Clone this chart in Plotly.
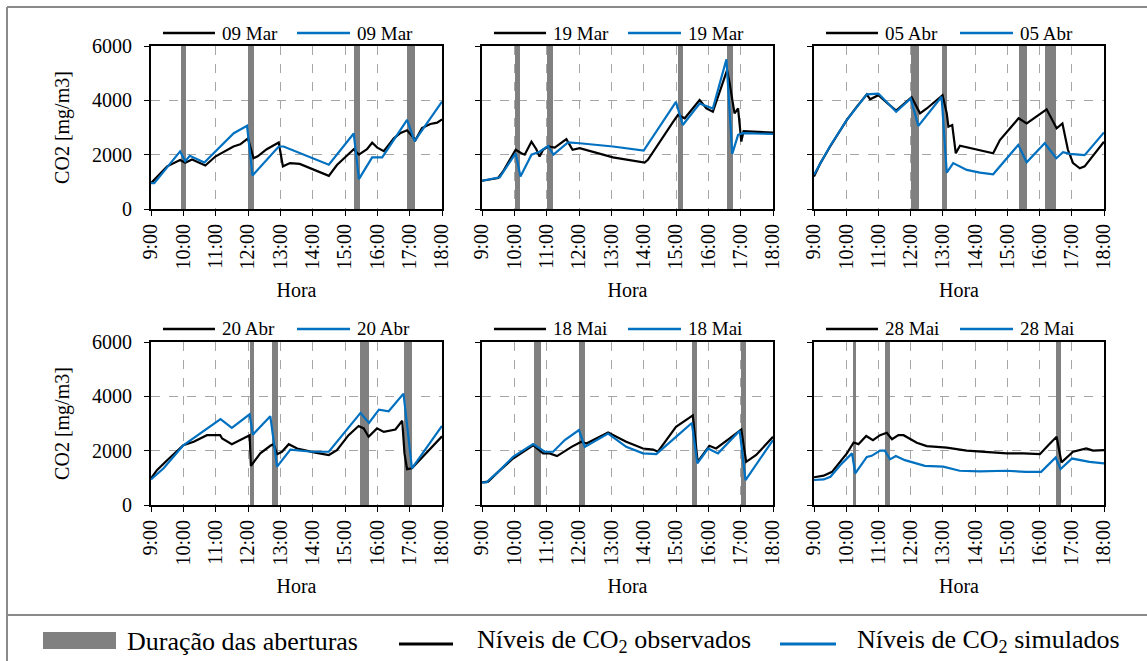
import plotly.graph_objects as go

# ---------------- DATA ----------------
days = ["09 Mar", "19 Mar", "05 Abr", "20 Abr", "18 Mai", "28 Mai"]
hour_ticks = [9, 10, 11, 12, 13, 14, 15, 16, 17, 18]
hour_labels = ["9:00", "10:00", "11:00", "12:00", "13:00", "14:00", "15:00", "16:00", "17:00", "18:00"]
co2_ticks = [0, 2000, 4000, 6000]

# 09 Mar
mar09_open_start = [9.92, 12.0, 15.28, 16.93]
mar09_open_end = [10.08, 12.17, 15.45, 17.18]
mar09_obs_h = [9.0, 9.5, 9.9, 10.06, 10.27, 10.68, 11.0, 11.55, 11.76, 12.0, 12.17, 12.3, 12.58, 12.95, 13.08,
               13.3, 13.6, 14.03, 14.5, 14.75, 15.27, 15.43, 15.68, 15.84, 16.0, 16.2, 16.51, 16.72, 16.92,
               17.18, 17.38, 17.64, 17.85, 18.0]
mar09_obs_v = [950, 1570, 1800, 1700, 1820, 1600, 1940, 2300, 2380, 2600, 1870, 1940, 2200, 2450, 1570,
               1690, 1660, 1450, 1220, 1620, 2200, 2000, 2200, 2440, 2260, 2130, 2600, 2800, 2900,
               2540, 2980, 3130, 3180, 3300]
mar09_sim_h = [9.0, 9.1, 9.9, 10.06, 10.2, 10.65, 11.56, 11.97, 12.14, 12.95, 13.1, 14.5, 15.27, 15.43,
               15.84, 16.15, 16.92, 17.15, 18.0]
mar09_sim_v = [950, 950, 2120, 1760, 1960, 1710, 2790, 3060, 1230, 2300, 2300, 1630, 2780, 1100,
               1900, 1900, 3280, 2500, 3950]

# 19 Mar
mar19_open_start = [10.01, 11.01, 15.06, 16.58]
mar19_open_end = [10.19, 11.2, 15.23, 16.76]
mar19_obs_h = [9.0, 9.5, 9.65, 10.04, 10.22, 10.32, 10.53, 10.68, 10.78, 10.89, 11.04, 11.25, 11.61, 11.8,
               12.02, 13.05, 14.03, 14.13, 14.91, 15.06, 15.27, 15.73, 15.94, 16.14, 16.58, 16.66, 16.81,
               16.92, 17.02, 17.09, 17.38, 18.0]
mar19_obs_v = [1040, 1140, 1380, 2180, 2050, 2000, 2480, 2200, 1930, 2180, 2300, 2260, 2570, 2180,
               2240, 1900, 1710, 1810, 3210, 3460, 3340, 4010, 3700, 3580, 5110, 4620, 3520,
               3700, 2480, 2870, 2850, 2810]
mar19_sim_h = [9.0, 9.55, 10.04, 10.19, 10.53, 10.78, 11.04, 11.21, 11.66, 12.02, 13.05, 14.0, 15.0, 15.21,
               15.73, 16.14, 16.56, 16.74, 16.92, 17.07, 18.0]
mar19_sim_v = [1040, 1170, 2050, 1200, 2000, 2110, 2320, 2000, 2450, 2420, 2300, 2150, 3940, 3090,
               3880, 3700, 5510, 2030, 2730, 2790, 2760]

# 05 Abr
abr05_open_start = [12.0, 12.97, 15.35, 16.17]
abr05_open_end = [12.26, 13.14, 15.6, 16.5]
abr05_obs_h = [9.0, 9.2, 9.5, 10.02, 10.33, 10.64, 10.74, 11.0, 11.26, 11.55, 12.03, 12.29, 12.5, 12.99,
               13.12, 13.17, 13.29, 13.4, 13.53, 14.56, 14.77, 15.35, 15.6, 16.22, 16.53, 16.71, 16.88,
               17.04, 17.25, 17.4, 18.0]
abr05_obs_v = [1200, 1690, 2300, 3280, 3770, 4220, 4040, 4190, 3910, 3620, 4110, 3520, 3700, 4190,
               3520, 3030, 3090, 2050, 2330, 2050, 2540, 3340, 3150, 3670, 2970, 3150, 2180,
               1690, 1500, 1570, 2480]
abr05_sim_h = [9.0, 9.5, 10.02, 10.64, 11.0, 11.26, 11.55, 12.0, 12.24, 12.96, 13.12, 13.32, 13.74, 14.15,
               14.56, 15.34, 15.6, 16.16, 16.52, 16.73, 16.94, 17.4, 18.0]
abr05_sim_v = [1260, 2320, 3280, 4220, 4250, 3950, 3580, 4070, 3060, 4130, 1340, 1690, 1440, 1340,
               1280, 2360, 1720, 2420, 1870, 2090, 2030, 1980, 2820]

# 20 Abr
abr20_open_start = [12.07, 12.74, 15.47, 16.83]
abr20_open_end = [12.18, 12.93, 15.75, 17.08]
abr20_obs_h = [9.0, 9.19, 9.5, 10.0, 10.32, 10.73, 11.14, 11.2, 11.5, 11.97, 12.05, 12.09, 12.38, 12.69,
               12.79, 12.9, 13.05, 13.26, 13.52, 14.08, 14.5, 14.75, 15.11, 15.42, 15.58, 15.73, 15.99,
               16.2, 16.56, 16.77, 16.84, 16.92, 17.07, 18.0]
abr20_obs_v = [980, 1290, 1650, 2200, 2330, 2570, 2570, 2450, 2240, 2510, 2570, 1440, 1900, 2180,
               2240, 1870, 1960, 2240, 2080, 1930, 1840, 2020, 2570, 2910, 2820, 2510, 2820,
               2690, 2780, 3100, 1900, 1320, 1350, 2530]
abr20_sim_h = [9.0, 9.39, 10.0, 10.43, 10.95, 11.15, 11.5, 12.05, 12.15, 12.69, 12.9, 13.31, 13.98, 14.5,
               15.48, 15.74, 16.05, 16.35, 16.81, 17.07, 18.0]
abr20_sim_v = [940, 1350, 2200, 2570, 3000, 3160, 2840, 3340, 2590, 3270, 1410, 2040, 1960, 1960,
               3390, 3020, 3510, 3450, 4100, 1350, 2910]

# 18 Mai
mai18_open_start = [10.6, 12.0, 15.5, 17.0]
mai18_open_end = [10.84, 12.18, 15.66, 17.15]
mai18_obs_h = [9.0, 9.19, 9.5, 9.96, 10.58, 10.89, 11.09, 11.32, 11.77, 12.07, 12.23, 12.9, 13.46, 13.98,
               14.29, 14.44, 14.7, 15.0, 15.52, 15.67, 16.03, 16.24, 16.66, 17.02, 17.17, 17.48, 18.0]
mai18_obs_v = [830, 860, 1220, 1710, 2200, 1900, 1900, 1800, 2140, 2330, 2260, 2670, 2330, 2080,
               2040, 1960, 2390, 2880, 3300, 1590, 2180, 2080, 2450, 2780, 1590, 1840, 2510]
mai18_sim_h = [9.0, 9.13, 9.5, 9.96, 10.58, 10.94, 11.2, 11.56, 12.0, 12.18, 12.9, 13.46, 13.98, 14.39,
               15.0, 15.49, 15.66, 15.99, 16.3, 16.97, 17.15, 18.0]
mai18_sim_v = [830, 830, 1220, 1770, 2240, 1960, 1960, 2390, 2760, 2140, 2630, 2140, 1900, 1870,
               2510, 3020, 1530, 2080, 1900, 2730, 920, 2390]

# 28 Mai
mai28_open_start = [10.2, 11.19, 16.51]
mai28_open_end = [10.29, 11.36, 16.68]
mai28_obs_h = [9.0, 9.3, 9.56, 9.82, 10.02, 10.23, 10.38, 10.62, 10.83, 11.05, 11.26, 11.42, 11.62, 11.78,
               12.19, 12.5, 13.12, 13.74, 14.36, 14.98, 15.5, 16.01, 16.27, 16.53, 16.68, 17.04, 17.45,
               17.66, 18.0]
mai28_obs_v = [1020, 1080, 1220, 1590, 1900, 2300, 2240, 2540, 2390, 2570, 2660, 2420, 2570, 2570,
               2290, 2170, 2110, 2000, 1960, 1900, 1900, 1870, 2200, 2510, 1570, 1960, 2080,
               2000, 2020]
mai28_sim_h = [9.0, 9.3, 9.51, 9.82, 10.18, 10.28, 10.64, 10.79, 11.05, 11.2, 11.36, 11.54, 11.82, 12.44,
               13.01, 13.52, 14.14, 14.96, 15.58, 16.05, 16.5, 16.65, 17.01, 17.55, 18.0]
mai28_sim_v = [920, 940, 1040, 1470, 1900, 1160, 1770, 1810, 2000, 2000, 1680, 1800, 1650, 1440,
               1410, 1260, 1240, 1260, 1220, 1220, 1750, 1320, 1710, 1590, 1530]

legend_labels = ["Duração das aberturas", "Níveis de CO<sub>2</sub> observados", "Níveis de CO<sub>2</sub> simulados"]

# ---------------- STYLE ----------------
FONT = "Liberation Serif"
BLACK = "#000000"
BLUE = "#0070C0"
GREY = "#808080"
FRAME = "#8a8a8a"
W, H = 1147, 661

panels = [
    (mar09_open_start, mar09_open_end, mar09_obs_h, mar09_obs_v, mar09_sim_h, mar09_sim_v),
    (mar19_open_start, mar19_open_end, mar19_obs_h, mar19_obs_v, mar19_sim_h, mar19_sim_v),
    (abr05_open_start, abr05_open_end, abr05_obs_h, abr05_obs_v, abr05_sim_h, abr05_sim_v),
    (abr20_open_start, abr20_open_end, abr20_obs_h, abr20_obs_v, abr20_sim_h, abr20_sim_v),
    (mai18_open_start, mai18_open_end, mai18_obs_h, mai18_obs_v, mai18_sim_h, mai18_sim_v),
    (mai28_open_start, mai28_open_end, mai28_obs_h, mai28_obs_v, mai28_sim_h, mai28_sim_v),
]

# plot-area pixel boxes (left, right) and (top, bottom)
col_px = [(151, 442), (482, 773), (814, 1104)]
row_px = [(46, 209), (342, 505)]

def px_x(p):
    return p / W

def px_y(p):
    return 1 - p / H

fig = go.Figure()
layout = dict(
    width=W, height=H, autosize=False,
    margin=dict(l=0, r=0, t=0, b=0, pad=0, autoexpand=False),
    paper_bgcolor="white", plot_bgcolor="white",
    showlegend=False,
    font=dict(family=FONT, color="black", size=20),
    bargap=0,
)
shapes = []
annotations = []

for i, (day, (os_, oe_, oh, ov, sh, sv)) in enumerate(zip(days, panels)):
    r, c = divmod(i, 3)
    n = i + 1
    xa = "x" if n == 1 else f"x{n}"
    ya = "y" if n == 1 else f"y{n}"
    centers = [(a + b) / 2 for a, b in zip(os_, oe_)]
    widths = [b - a for a, b in zip(os_, oe_)]
    fig.add_trace(go.Bar(x=centers, y=[co2_ticks[-1]] * len(centers), width=widths, base=0,
                         marker=dict(color=GREY, line=dict(width=0)),
                         name="Duração das aberturas", xaxis=xa, yaxis=ya))
    fig.add_trace(go.Scatter(x=oh, y=ov, mode="lines", line=dict(color=BLACK, width=2.2),
                             name=day, xaxis=xa, yaxis=ya))
    fig.add_trace(go.Scatter(x=sh, y=sv, mode="lines", line=dict(color=BLUE, width=2.2),
                             name=day, xaxis=xa, yaxis=ya))

    xkey = "xaxis" if n == 1 else f"xaxis{n}"
    ykey = "yaxis" if n == 1 else f"yaxis{n}"
    l, rr = col_px[c]
    t, b = row_px[r]
    layout[xkey] = dict(
        domain=[px_x(l), px_x(rr)], anchor=ya, range=[9, 18], automargin=False,
        tickmode="array", tickvals=hour_ticks, ticktext=hour_labels, tickangle=-90,
        ticks="outside", ticklen=5, tickwidth=1.2, tickcolor="black",
        showline=True, linecolor="black", linewidth=1.8, mirror=True,
        showgrid=True, gridcolor="#a6a6a6", gridwidth=1, griddash="dash", zeroline=False,
        tickfont=dict(family=FONT, size=20, color="black"),
        title=dict(text="Hora", font=dict(family=FONT, size=20, color="black"), standoff=15),
    )
    layout[ykey] = dict(
        domain=[px_y(b), px_y(t)], anchor=xa, range=[0, 6000], automargin=False,
        tickmode="array", tickvals=co2_ticks,
        ticks="outside", ticklen=5, tickwidth=1.2, tickcolor="black", ticklabelstandoff=8,
        showline=True, linecolor="black", linewidth=1.8, mirror=True,
        showgrid=True, gridcolor="#a6a6a6", gridwidth=1, griddash="dash", zeroline=False,
        showticklabels=(c == 0),
        tickfont=dict(family=FONT, size=20, color="black"),
    )
    if c == 0:
        layout[ykey]["title"] = dict(text="CO2 [mg/m3]", font=dict(family=FONT, size=20, color="black"),
                                     standoff=17)

    # per-panel legend (drawn relative to the panel's domain)
    pw = rr - l
    ph = b - t
    ly = 1 + 13 / ph
    for (x0, x1, tx, col) in [(12, 64, 69, BLACK), (146, 199, 204, BLUE)]:
        shapes.append(dict(type="line", xref=f"{xa} domain", yref=f"{ya} domain",
                           x0=x0 / pw, x1=x1 / pw, y0=ly, y1=ly, line=dict(color=col, width=2.5)))
        annotations.append(dict(text=day, xref=f"{xa} domain", yref=f"{ya} domain",
                                x=tx / pw, y=ly, xanchor="left", yanchor="middle", showarrow=False,
                                font=dict(family=FONT, size=19, color="black")))

# outer frame
shapes += [
    dict(type="line", xref="paper", yref="paper", x0=px_x(7), x1=1, y0=px_y(7), y1=px_y(7),
         line=dict(color=FRAME, width=2)),
    dict(type="line", xref="paper", yref="paper", x0=px_x(7), x1=px_x(7), y0=px_y(7), y1=0,
         line=dict(color=FRAME, width=2)),
    dict(type="line", xref="paper", yref="paper", x0=px_x(7), x1=1, y0=px_y(615), y1=px_y(615),
         line=dict(color=FRAME, width=2)),
]

# bottom legend
shapes += [
    dict(type="rect", xref="paper", yref="paper", x0=px_x(43), x1=px_x(116), y0=px_y(649), y1=px_y(632),
         fillcolor=GREY, line=dict(width=0)),
    dict(type="line", xref="paper", yref="paper", x0=px_x(399), x1=px_x(453), y0=px_y(644), y1=px_y(644),
         line=dict(color=BLACK, width=3)),
    dict(type="line", xref="paper", yref="paper", x0=px_x(780), x1=px_x(836), y0=px_y(644), y1=px_y(644),
         line=dict(color=BLUE, width=3)),
]
for txt, xp in zip(legend_labels, [125, 475, 855]):
    annotations.append(dict(text=txt, xref="paper", yref="paper", x=px_x(xp), y=px_y(641),
                            xanchor="left", yanchor="middle", showarrow=False,
                            font=dict(family=FONT, size=26, color="black")))

layout["shapes"] = shapes
layout["annotations"] = annotations
fig.update_layout(**layout)
fig.write_html("out.html", config={"displayModeBar": False},
               post_script="document.body.style.margin='0px';document.body.style.overflow='hidden';")
